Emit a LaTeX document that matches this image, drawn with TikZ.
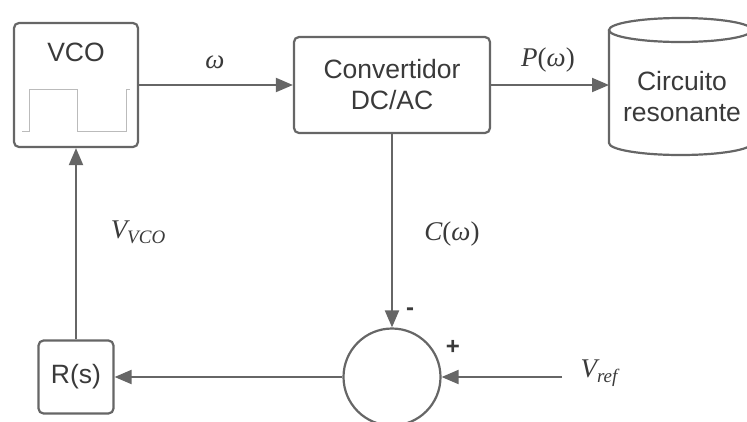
\documentclass[tikz,border=0pt]{standalone}
\usepackage{fontspec}
\setmainfont{Liberation Sans}
\newfontfamily\mf{Liberation Serif}
\usetikzlibrary{arrows.meta}
\definecolor{lc}{HTML}{666666}
\definecolor{tc}{HTML}{3A3A3A}
\definecolor{wc}{HTML}{BBBBBB}
\newcommand{\subtxt}[1]{\raisebox{-5pt}{\fontsize{19}{22}\selectfont\itshape #1}}
\begin{document}
\begin{tikzpicture}[x=1pt,y=-1pt,
  box/.style={draw=lc, line width=2.2pt, rounded corners=5pt, fill=white, inner sep=0pt},
  conn/.style={draw=lc, line width=2pt, -{Triangle[length=17pt,width=14pt]}},
  lbl/.style={text=tc, font=\mf\fontsize{27}{30}\selectfont, inner sep=0pt},
  txt/.style={text=tc, font=\fontsize{26.5}{31}\selectfont, align=center, inner sep=0pt},
  sgn/.style={text=tc, font=\fontsize{24}{26}\selectfont\bfseries, inner sep=0pt},
  wave/.style={draw=wc, line width=1pt}]
\useasboundingbox (0,0) rectangle (747,421);
% blocks
\node[box, minimum width=124pt, minimum height=124pt] (vco) at (76,85) {};
\node[txt] (vcot) at (76,52) {VCO};
\draw[wave] (22,131) -- (29,131) -- (29,89) -- (77,89) -- (77,131) -- (126,131) -- (126,89) -- (130,89);
\node[box, minimum width=196pt, minimum height=96pt, txt] (conv) at (392,85) {Convertidor\\DC/AC};
\node[box, minimum width=75pt, minimum height=73pt, txt] (rs) at (76,377) {R(s)};
\node[draw=lc, line width=2.2pt, circle, minimum size=97pt, inner sep=0pt, fill=white] (sum) at (392,377) {};
% cylinder
\draw[draw=lc, line width=2.2pt, fill=white] (609,30) -- (609,143) arc[start angle=180, end angle=0, x radius=71.5, y radius=12] -- (752,30);
\draw[draw=lc, line width=2.2pt] (680.5,30) ellipse[x radius=71.5, y radius=12];
\node[txt] (cyl) at (682,97) {Circuito\\resonante};
\coordinate (cylw) at (609,85);
\coordinate (vref) at (562,377);
% connectors
\draw[conn] (vco) -- (conv);
\draw[conn] (conv) -- (cylw);
\draw[conn] (conv) -- (sum);
\draw[conn] (vref) -- (sum);
\draw[conn] (sum) -- (rs);
\draw[conn] (rs) -- (vco);
% labels
\node[lbl] (lw) at (215,62) {\itshape ω};
\node[lbl] (lp) at (548,60) {\itshape P\upshape(\itshape ω\upshape)};
\node[lbl] (lc) at (452,234) {\itshape C\upshape(\itshape ω\upshape)};
\node[lbl] (lv) at (138,232) {\itshape V\subtxt{VCO}};
\node[lbl] (lr) at (599,373) {\itshape V\subtxt{ref}};
\node[sgn] (minus) at (410,312) {-};
\node[sgn] (plus) at (453,347) {+};
\end{tikzpicture}
\end{document}
